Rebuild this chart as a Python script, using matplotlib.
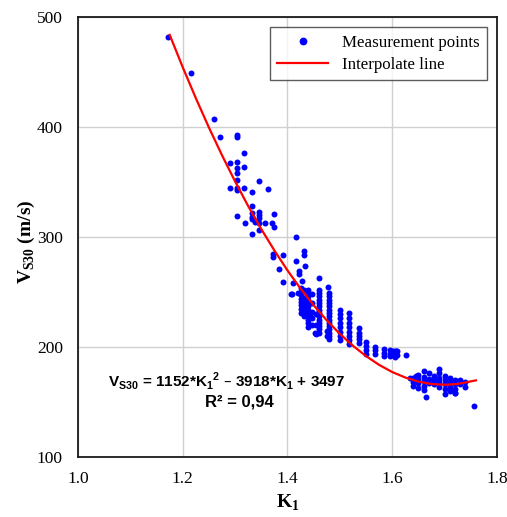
import numpy as np
import matplotlib
matplotlib.use('Agg')
import matplotlib.pyplot as plt

k1_upper = [1.172, 1.216, 1.260, 1.271, 1.303, 1.303, 1.317, 1.291, 1.303, 1.303,
            1.317, 1.303, 1.303, 1.346, 1.291, 1.303, 1.303, 1.317, 1.362, 1.333,
            1.333, 1.346, 1.346, 1.333, 1.333, 1.333, 1.303, 1.374, 1.319, 1.346,
            1.346, 1.357, 1.370, 1.374, 1.338, 1.333, 1.346, 1.416, 1.373, 1.373,
            1.391, 1.432, 1.432, 1.384, 1.416, 1.433, 1.422, 1.422, 1.391, 1.428,
            1.461, 1.411, 1.406, 1.478, 1.408, 1.421]
vs_upper = [482, 449, 407, 391, 393, 391, 376, 367, 368, 363,
            364, 358, 352, 351, 345, 345, 343, 345, 344, 341,
            328, 323, 320, 322, 318, 316, 319, 321, 313, 317,
            313, 313, 313, 309, 314, 303, 306, 300, 285, 282,
            284, 287, 284, 271, 278, 274, 269, 266, 259, 260,
            263, 258, 248, 255, 248, 249]

k1_mid = ([1.425] * 8 + [1.432] * 6 + [1.440] * 12 + [1.447] * 5 + [1.460] * 14 +
          [1.455] * 3 + [1.480] * 15 + [1.475] * 2 + [1.500] * 8 + [1.517] * 8 +
          [1.536] * 5 + [1.550] * 4 + [1.567] * 3 + [1.585] * 3 + [1.595] * 3 +
          [1.605] * 3 + [1.610] * 2 + [1.602, 1.608, 1.627, 1.430, 1.433, 1.443, 1.452])
vs_mid = ([254, 250, 247, 244, 241, 238, 235, 231] +
          [252, 245, 240, 236, 232, 228] +
          [252, 249, 246, 243, 240, 237, 234, 231, 228, 225, 222, 218] +
          [248, 240, 232, 226, 220] +
          [252, 249, 246, 243, 240, 237, 234, 231, 228, 225, 222, 219, 216, 213] +
          [230, 220, 212] +
          [249, 246, 243, 240, 237, 234, 231, 228, 225, 222, 219, 216, 213, 210, 207] +
          [215, 210] +
          [234, 230, 226, 222, 218, 214, 210, 206] +
          [231, 226, 222, 218, 214, 210, 206, 203] +
          [217, 213, 210, 207, 204] +
          [205, 201, 197, 194] +
          [200, 197, 194] +
          [198, 195, 192] +
          [197, 194, 192] +
          [196, 193, 191] +
          [196, 193] +
          [196, 196, 193, 238, 232, 228, 213])

k1_lower = ([1.635, 1.645] + [1.640] * 3 + [1.650] * 4 + [1.660] * 5 + [1.670] * 3 +
            [1.680] * 3 + [1.690] * 5 + [1.700] * 4 + [1.710] * 4 + [1.720] * 4 +
            [1.730] * 2 + [1.740] * 2 + [1.664, 1.700, 1.720, 1.756])
vs_lower = ([172, 174] + [172, 168, 165] + [175, 171, 167, 163] +
            [178, 173, 169, 165, 161] + [176, 171, 167] + [174, 170, 166] +
            [180, 176, 172, 168, 164] + [174, 170, 166, 162] +
            [172, 168, 164, 160] + [170, 166, 162, 158] + [170, 166] +
            [168, 164] + [155, 157, 158, 146])

# trend line
k1_line = [1.175, 1.200, 1.225, 1.250, 1.275, 1.300, 1.325, 1.350, 1.375, 1.400,
           1.425, 1.450, 1.475, 1.500, 1.525, 1.550, 1.575, 1.600, 1.625, 1.650,
           1.675, 1.700, 1.725, 1.760]
vs_line = [483.8, 454.3, 426.2, 399.5, 374.3, 350.5, 328.1, 307.2, 287.8, 269.7,
           253.1, 238.0, 224.3, 212.0, 201.2, 191.8, 183.8, 177.3, 172.3, 168.6,
           166.4, 165.7, 166.4, 169.7]

x_ticks = [1.0, 1.2, 1.4, 1.6, 1.8]
y_ticks = [100, 200, 300, 400, 500]


def main():
    plt.rcParams['font.family'] = 'Liberation Serif'
    fig = plt.figure(figsize=(5.07, 5.17), dpi=100)
    ax = fig.add_axes([0.154, 0.116, 0.826, 0.851])

    k1 = np.array(k1_upper + k1_mid + k1_lower)
    vs = np.array(vs_upper + vs_mid + vs_lower)

    ax.plot(k1, vs, 'o', color='#0000ff', markersize=4.3, markeredgewidth=0,
            label='Measurement points', zorder=3)
    ax.plot(k1_line, vs_line, color='#ff0000', linewidth=1.6,
            label='Interpolate line', zorder=4)

    ax.set_xlim(1.0, 1.8)
    ax.set_ylim(100, 500)
    ax.set_xticks(x_ticks)
    ax.set_yticks(y_ticks)
    ax.set_xticklabels(['%.1f' % t for t in x_ticks])
    ax.tick_params(length=0, labelsize=12.5)
    ax.tick_params(axis='x', pad=10)
    ax.tick_params(axis='y', pad=11)
    ax.grid(True, color='#d0d0d0', linewidth=1.0)
    ax.set_axisbelow(True)
    for s in ax.spines.values():
        s.set_linewidth(1.3)
        s.set_color('#1a1a1a')

    ax.set_xlabel(r'K$_{\mathregular{1}}$', fontsize=14, fontweight='bold', labelpad=4)
    ax.set_ylabel(r'V$_{\mathregular{S30}}$ (m/s)', fontsize=14, fontweight='bold')
    ax.yaxis.set_label_coords(-0.097, 0.49)

    leg = ax.legend(loc='upper right', fontsize=12.2, frameon=True, fancybox=False,
                    edgecolor='#333333', borderpad=0.45, handlelength=3.0,
                    labelspacing=0.35, markerscale=1.3, borderaxespad=0,
                    bbox_to_anchor=(0.976, 0.977))
    leg.get_frame().set_linewidth(1.0)

    ax.text(1.283, 169, r'V$_{\mathregular{S30}}$ = 1152*K$_{\mathregular{1}}$$^{\mathregular{2}}$ '
            r'– 3918*K$_{\mathregular{1}}$ + 3497', fontsize=11, fontweight='bold',
            family='Liberation Sans', ha='center', va='center')
    ax.text(1.309, 150, 'R² = 0,94', fontsize=12, fontweight='bold',
            family='Liberation Sans', ha='center', va='center')

    plt.savefig('out.png', dpi=100)


if __name__ == '__main__':
    main()
